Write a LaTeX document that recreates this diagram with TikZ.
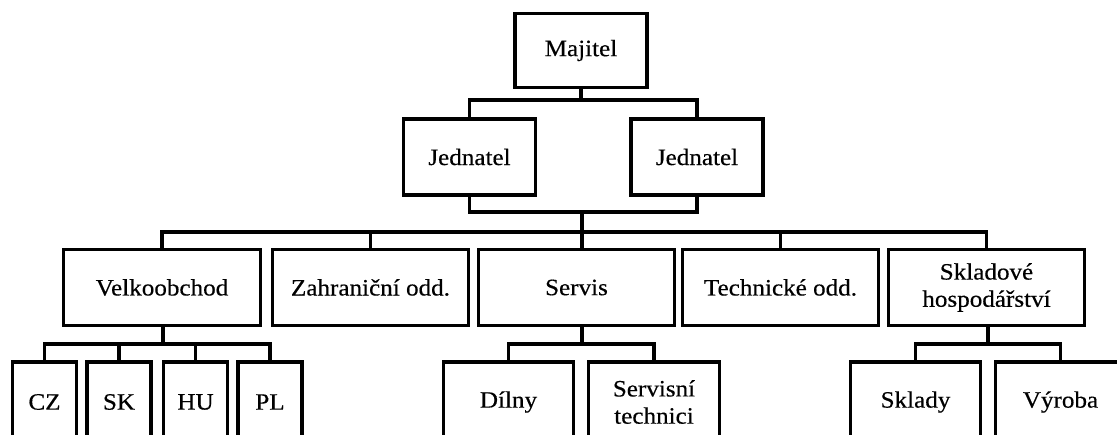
\documentclass[tikz,border=0pt]{standalone}
\usepackage{fontspec}
\setmainfont{Liberation Serif}[FakeStretch=1.07,FakeBold=0.4]
\begin{document}
\begin{tikzpicture}[x=0.75pt,y=-0.75pt,
  box/.style={draw, line width=2.4pt, inner sep=0pt, align=center,
    font=\fontsize{17.6}{20.4}\selectfont, text=black},
  conn/.style={line width=2.4pt, line cap=rect}]
\useasboundingbox (0,0) rectangle (1117,435);
\clip (0,0) rectangle (1117,435);
% top levels
\node[box, minimum width=99pt, minimum height=56pt] (maj) at (581,50.5) {Majitel};
\node[box, minimum width=99pt, minimum height=57pt] (j1) at (469.5,157) {Jednatel};
\node[box, minimum width=99pt, minimum height=57pt] (j2) at (697,157) {Jednatel};
% departments
\node[box, minimum width=148pt, minimum height=57.5pt] (vel) at (162,287.5) {Velkoobchod};
\node[box, minimum width=147pt, minimum height=57.5pt] (zah) at (370.5,287.5) {Zahraniční odd.};
\node[box, minimum width=147pt, minimum height=57.5pt] (ser) at (576.5,287.5) {Servis};
\node[box, minimum width=147pt, minimum height=57.5pt] (tech) at (780.5,287.5) {Technické odd.};
\node[box, minimum width=147pt, minimum height=57.5pt] (skl) at (986.5,287.5) {Skladové\\hospodářství};
% bottom level
\node[box, minimum width=48pt, minimum height=60pt] (cz) at (44.5,402) {CZ};
\node[box, minimum width=48pt, minimum height=60pt] (sk) at (119,402) {SK};
\node[box, minimum width=48pt, minimum height=60pt] (hu) at (195.5,402) {HU};
\node[box, minimum width=48pt, minimum height=60pt] (pl) at (270,402) {PL};
\node[box, minimum width=98pt, minimum height=60pt] (dil) at (508.5,402) {Dílny};
\node[box, minimum width=98pt, minimum height=60pt] (st) at (654,402) {Servisní\\technici};
\node[box, minimum width=98pt, minimum height=60pt] (sklady) at (915.5,402) {Sklady};
\node[box, minimum width=98pt, minimum height=60pt] (vyr) at (1060.5,402) {Výroba};
% connector points
\coordinate (a1) at (581,100);
\coordinate (b1) at (582,212);
\coordinate (b2) at (582,232);
\coordinate (c1) at (163,344);
\coordinate (c2) at (582,344);
\coordinate (c3) at (988,344);
% Majitel -> Jednatel
\draw[conn] (maj.south) -- (a1);
\draw[conn] (j1.north) |- (a1) -| (j2.north);
% Jednatel -> departments
\draw[conn] (j1.south) |- (b1) -| (j2.south);
\draw[conn] (b1) -- (b1 |- ser.north);
\draw[conn] (vel.north) |- (b2) -| (skl.north);
\draw[conn] (zah.north) -- (zah.north |- b2);
\draw[conn] (tech.north) -- (tech.north |- b2);
% Velkoobchod -> countries
\draw[conn] (c1 |- vel.south) -- (c1);
\draw[conn] (cz.north) |- (c1) -| (pl.north);
\draw[conn] (sk.north) -- (sk.north |- c1);
\draw[conn] (hu.north) -- (hu.north |- c1);
% Servis -> Dilny, Servisni technici
\draw[conn] (c2 |- ser.south) -- (c2);
\draw[conn] (dil.north) |- (c2) -| (st.north);
% Skladove -> Sklady, Vyroba
\draw[conn] (c3 |- skl.south) -- (c3);
\draw[conn] (sklady.north) |- (c3) -| (vyr.north);
\end{tikzpicture}
\end{document}
